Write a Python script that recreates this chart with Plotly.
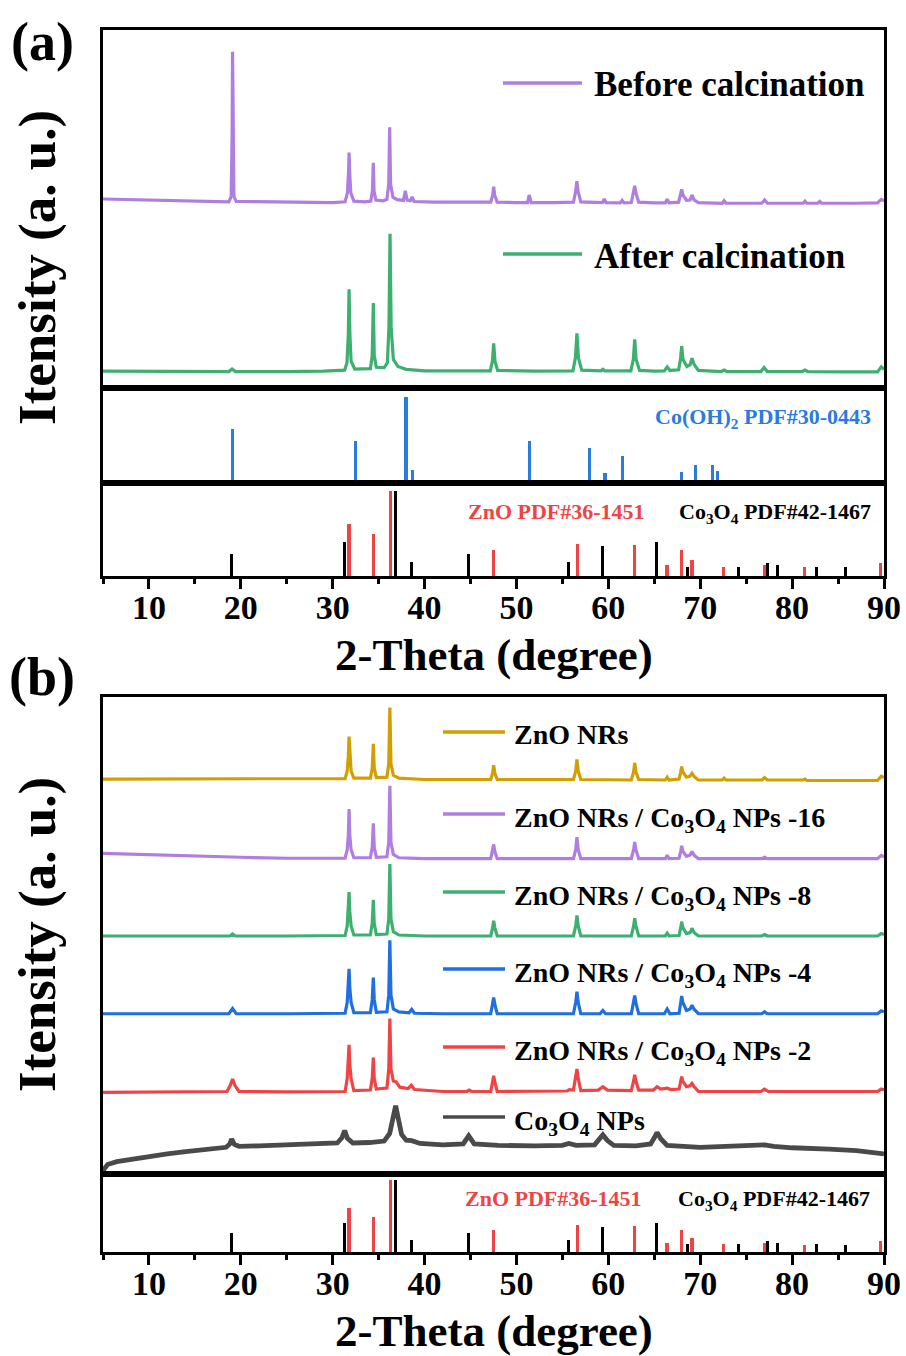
import plotly.graph_objects as go

# ---------------- data (2-Theta in degrees, intensity in a.u.) ----------------
before_calc = [(5,52.8),(8,52.6),(12,52.4),(16,52.1),(18.7,52.0),(18.95,53.5),(19.05,70),(19.1,93.9),(19.15,70),(19.25,53.5),(19.5,52.1),(22,52.0),(26,51.9),(30,51.8),(31.35,52.0),(31.6,54.5),(31.72,60),(31.78,65.8),(31.85,60),(31.97,54.5),(32.3,52.2),(33.5,52.0),(34.15,52.2),(34.32,55),(34.42,62.9),(34.5,55),(34.7,52.5),(35.5,52.3),(35.9,52.7),(36.1,57),(36.2,72.8),(36.3,57),(36.55,53.3),(37.0,52.6),(37.7,52.4),(37.9,55.1),(38.1,52.5),(38.45,52.3),(38.65,53.4),(38.85,52.1),(41,51.9),(45,51.8),(47.2,51.9),(47.42,54),(47.52,56.2),(47.62,54),(47.9,51.9),(50,51.8),(51.2,51.8),(51.38,53.9),(51.6,51.8),(54,51.8),(56.2,51.9),(56.45,55),(56.57,57.8),(56.7,55),(57.0,52.0),(59.35,51.8),(59.55,52.8),(59.75,51.8),(61.3,51.7),(61.5,52.4),(61.7,51.7),(62.5,51.8),(62.75,54.5),(62.87,56.5),(63.0,54.5),(63.3,51.9),(65,51.7),(66.2,51.7),(66.4,52.7),(66.6,51.7),(67.65,51.9),(67.88,54),(67.98,55.5),(68.1,54),(68.5,52.4),(68.9,52.5),(69.1,53.9),(69.35,52.5),(69.8,51.8),(72.4,51.6),(72.6,52.3),(72.8,51.6),(76.7,51.6),(77.0,52.5),(77.3,51.6),(81.2,51.6),(81.4,52.2),(81.6,51.6),(82.8,51.6),(83.0,52.1),(83.2,51.6),(87,51.6),(89.3,51.7),(89.7,52.7),(90,52.3)]

after_calc = [(5,4.7),(10,4.6),(15,4.6),(18.7,4.6),(19.05,5.3),(19.4,4.6),(25,4.6),(29,4.7),(31.3,5.0),(31.55,7),(31.7,15),(31.78,27.6),(31.87,15),(32.0,7.5),(32.4,5.3),(33.8,5.2),(34.1,5.4),(34.3,9),(34.42,23.7),(34.52,9),(34.75,5.8),(35.6,5.7),(35.95,7),(36.12,17),(36.24,43.1),(36.36,17),(36.6,8),(37.1,6.0),(38,5.2),(40,4.8),(45,4.7),(47.15,4.8),(47.38,7.5),(47.52,12.5),(47.66,7.5),(47.95,4.9),(52,4.7),(56.15,4.8),(56.42,8.5),(56.58,15.3),(56.74,8.5),(57.1,5.0),(59.2,4.8),(59.4,5.2),(59.6,4.8),(62.45,4.8),(62.72,8),(62.87,13.6),(63.02,8),(63.4,4.9),(65,4.7),(66.1,4.8),(66.4,5.9),(66.7,4.9),(67.65,5.1),(67.85,8),(67.98,11.7),(68.12,8),(68.55,6.0),(68.9,6.5),(69.1,8.3),(69.35,6.5),(69.8,4.9),(72.3,4.6),(72.6,5.0),(72.9,4.6),(76.6,4.6),(76.95,5.7),(77.3,4.6),(81.1,4.6),(81.4,5.0),(81.7,4.6),(86,4.5),(89.3,4.5),(89.7,5.9),(90,5.2)]

zno_nrs = [(5,82.8),(15,82.8),(25,82.8),(31.35,82.9),(31.58,84.5),(31.7,87.5),(31.78,91.7),(31.86,87.5),(32.0,84.5),(32.3,83.0),(34.1,83.0),(34.3,85),(34.42,90.2),(34.52,85),(34.75,83.1),(35.9,83.2),(36.1,86),(36.22,97.8),(36.34,86),(36.6,83.6),(37.2,83.0),(40,82.7),(47.2,82.7),(47.4,84),(47.52,85.7),(47.65,84),(47.9,82.7),(56.2,82.7),(56.45,84.5),(56.58,86.9),(56.72,84.5),(57.0,82.7),(62.5,82.6),(62.75,84.3),(62.87,86.2),(63.0,84.3),(63.3,82.7),(66.2,82.6),(66.4,83.2),(66.6,82.6),(67.7,82.8),(67.88,84.3),(67.98,85.4),(68.1,84.3),(68.5,83.2),(68.9,83.4),(69.1,84.0),(69.35,83.3),(69.8,82.6),(72.4,82.6),(72.6,83.0),(72.8,82.6),(76.7,82.6),(77.0,83.1),(77.3,82.6),(81.2,82.6),(81.4,82.8),(81.6,82.5),(89.3,82.5),(89.7,83.4),(90,83.1)]

comp_16 = [(5,67.2),(10,66.9),(15,66.6),(20,66.4),(25,66.2),(30,66.1),(31.35,66.2),(31.58,68),(31.7,71),(31.78,76.5),(31.86,71),(32.0,68),(32.3,66.3),(34.1,66.3),(34.3,68.5),(34.42,73.5),(34.52,68.5),(34.75,66.4),(35.9,66.5),(36.1,69.5),(36.22,81.4),(36.34,69.5),(36.6,67.0),(37.2,66.3),(40,66.1),(47.2,66.1),(47.4,67.6),(47.52,69.1),(47.65,67.6),(47.9,66.1),(56.2,66.1),(56.45,68),(56.58,70.6),(56.72,68),(57.0,66.1),(62.5,66.1),(62.75,68),(62.87,69.6),(63.0,68),(63.3,66.1),(66.2,66.1),(66.4,66.8),(66.6,66.1),(67.7,66.2),(67.88,67.7),(67.98,68.8),(68.1,67.7),(68.5,66.6),(68.9,66.9),(69.1,67.6),(69.35,66.8),(69.8,66.1),(76.7,66.1),(77.0,66.4),(77.3,66.1),(89.3,66.1),(89.7,66.8),(90,66.5)]

comp_8 = [(5,49.9),(15,49.9),(18.8,49.9),(19.1,50.3),(19.4,49.9),(25,49.9),(31.35,50.0),(31.58,52),(31.7,55),(31.78,59.1),(31.86,55),(32.0,52),(32.3,50.1),(34.1,50.1),(34.3,52.5),(34.42,57.5),(34.52,52.5),(34.75,50.2),(35.9,50.3),(36.1,53.5),(36.22,65.0),(36.34,53.5),(36.6,50.8),(37.2,50.1),(40,49.9),(47.2,49.9),(47.4,51.6),(47.52,53.1),(47.65,51.6),(47.9,49.9),(56.2,49.9),(56.45,52),(56.58,54.2),(56.72,52),(57.0,49.9),(62.5,49.9),(62.75,52),(62.87,53.6),(63.0,52),(63.3,49.9),(66.2,49.9),(66.4,50.5),(66.6,49.9),(67.7,50.0),(67.88,51.7),(67.98,52.9),(68.1,51.7),(68.5,50.4),(68.9,50.6),(69.1,51.5),(69.35,50.6),(69.8,49.9),(76.7,49.9),(77.0,50.2),(77.3,49.9),(89.3,49.9),(89.7,50.4),(90,50.2)]

comp_4 = [(5,33.6),(15,33.6),(18.7,33.6),(19.1,34.7),(19.5,33.6),(25,33.6),(31.35,33.7),(31.58,36),(31.7,39),(31.78,43.0),(31.86,39),(32.0,36),(32.3,33.8),(34.1,33.8),(34.3,36.5),(34.42,41.2),(34.52,36.5),(34.75,33.9),(35.9,34.0),(36.1,37.5),(36.22,49.0),(36.34,37.5),(36.6,34.6),(37.2,34.0),(38.3,33.8),(38.6,34.5),(38.9,33.7),(42,33.6),(47.2,33.6),(47.4,35.5),(47.52,37.0),(47.65,35.5),(47.9,33.6),(56.2,33.6),(56.45,36),(56.58,38.2),(56.72,36),(57.0,33.6),(59.1,33.6),(59.4,34.3),(59.7,33.6),(62.5,33.6),(62.75,35.8),(62.87,37.4),(63.0,35.8),(63.3,33.6),(66.1,33.6),(66.4,34.6),(66.7,33.6),(67.7,33.7),(67.88,36),(67.98,37.3),(68.1,36),(68.5,34.3),(68.9,34.6),(69.1,35.4),(69.35,34.5),(69.8,33.6),(76.7,33.6),(77.0,34.0),(77.3,33.6),(89.3,33.6),(89.7,34.2),(90,34.0)]

comp_2 = [(5,17.1),(15,17.2),(18.5,17.3),(18.85,18.6),(19.1,19.9),(19.35,18.6),(19.8,17.3),(25,17.2),(31.35,17.3),(31.58,20),(31.7,23),(31.78,27.1),(31.86,23),(32.0,20),(32.3,17.5),(34.1,17.6),(34.3,20),(34.42,24.4),(34.52,20),(34.75,17.8),(35.9,18.0),(36.1,22),(36.22,32.6),(36.34,22),(36.6,19.5),(36.9,19.3),(37.3,18.2),(38.2,17.9),(38.55,18.6),(38.9,17.7),(42,17.3),(44.6,17.3),(44.85,17.6),(45.1,17.3),(47.2,17.3),(47.4,19.2),(47.52,20.6),(47.65,19.2),(47.9,17.3),(55.5,17.4),(55.75,17.7),(56.2,17.6),(56.45,20),(56.58,22.0),(56.72,20),(57.0,17.5),(58.9,17.6),(59.4,18.3),(59.9,17.6),(62.5,17.5),(62.75,19.5),(62.87,20.8),(63.0,19.5),(63.3,17.6),(64.9,17.6),(65.3,18.3),(65.7,17.8),(66.4,18.0),(66.8,17.7),(67.7,17.8),(67.88,19.5),(67.98,20.4),(68.1,19.5),(68.5,18.3),(68.9,18.5),(69.1,19.0),(69.35,18.3),(69.8,17.3),(76.6,17.3),(77.0,17.8),(77.4,17.3),(89.3,17.3),(89.7,17.8),(90,17.6)]

co3o4_nps = [(5,0.7),(5.5,2.0),(6.5,2.6),(8,3.1),(10,3.6),(12,4.2),(14,4.7),(16,5.1),(18.4,5.6),(18.8,6.3),(19.0,7.3),(19.3,6.2),(19.8,5.8),(22,5.9),(25,6.2),(28,6.3),(30.5,6.5),(31.0,7.6),(31.3,9.1),(31.6,7.5),(32.2,6.5),(34,6.6),(35.6,6.9),(36.2,8.5),(36.55,11.5),(36.85,14.3),(37.15,11.5),(37.5,8.3),(38.0,7.1),(38.6,7.0),(39.5,6.4),(42,6.1),(44.2,6.3),(44.8,8.0),(45.4,6.3),(48,6.0),(52,5.9),(55.0,6.0),(55.7,6.4),(56.5,6.0),(58.5,6.1),(59.0,7.2),(59.4,8.2),(59.9,7.0),(60.6,6.0),(63,5.9),(64.6,6.3),(65.0,7.6),(65.3,8.7),(65.7,7.4),(66.4,6.0),(70,5.6),(74,5.8),(77,6.1),(78,5.8),(80,5.5),(84,5.2),(87,4.9),(90,4.2)]

# reference stick patterns (relative intensity)
cooh_pos = [19.06, 32.5, 37.97, 38.65, 51.38, 57.96, 59.63, 61.5, 68.0, 69.52, 71.33, 71.86]
cooh_int = [63, 49, 100, 15, 49, 40, 12, 31, 13, 21, 21, 14]
zno_pos = [31.77, 34.42, 36.25, 47.54, 56.60, 62.86, 66.38, 67.96, 69.10, 72.56, 76.95, 81.37, 89.6]
zno_int = [61, 49, 100, 30, 38, 36, 13, 30, 19, 11, 13, 10, 15]
co3o4_pos = [19.0, 31.27, 36.85, 38.55, 44.81, 55.66, 59.36, 65.24, 68.63, 74.12, 77.33, 78.40, 82.65, 85.84]
co3o4_int = [26, 40, 100, 17, 26, 16, 35, 40, 11, 11, 15, 13, 11, 10]

x_ticks = [10, 20, 30, 40, 50, 60, 70, 80, 90]

# ---------------- styling ----------------
W, H = 906, 1356
FONT = "Times New Roman, Liberation Serif, Tinos, serif"
C_PURPLE = "#B07DE0"
C_GREEN = "#3DB070"
C_BLUE = "#1F6FE0"
C_BLUE_REF = "#2A7BE0"
C_RED = "#F04343"
C_GOLD = "#D29E00"
C_GRAY = "#4A4A4A"


def px(x):
    return x / W


def py(y):
    return 1 - y / H


def split(pts):
    return [p[0] for p in pts], [p[1] for p in pts]


fig = go.Figure()


def add_curve(pts, color, axis, width=3.2):
    xs, ys = split(pts)
    fig.add_trace(go.Scatter(x=xs, y=ys, mode="lines", line=dict(color=color, width=width),
                             xaxis="x" + axis, yaxis="y" + axis, showlegend=False,
                             hoverinfo="skip"))


def add_sticks(pos, inten, color, axis):
    fig.add_trace(go.Bar(x=pos, y=inten, width=0.34, marker=dict(color=color, line=dict(width=0)),
                         xaxis="x" + axis, yaxis="y" + axis, showlegend=False))


# panel (a)
add_curve(before_calc, C_PURPLE, "")
add_curve(after_calc, C_GREEN, "")
add_sticks(cooh_pos, cooh_int, C_BLUE_REF, "2")
add_sticks(co3o4_pos, co3o4_int, "black", "3")
add_sticks(zno_pos, zno_int, C_RED, "3")
# panel (b)
add_curve(zno_nrs, C_GOLD, "4")
add_curve(comp_16, C_PURPLE, "4")
add_curve(comp_8, C_GREEN, "4")
add_curve(comp_4, C_BLUE, "4")
add_curve(comp_2, C_RED, "4")
add_curve(co3o4_nps, C_GRAY, "4", width=4.8)
add_sticks(co3o4_pos, co3o4_int, "black", "5")
add_sticks(zno_pos, zno_int, C_RED, "5")

XDOM = [px(103), px(884)]
ydoms = {
    "": [py(388), py(30)],
    "2": [py(483), py(388)],
    "3": [py(576), py(483)],
    "4": [py(1174), py(697)],
    "5": [py(1252), py(1174)],
}
yranges = {"": [0, 100], "2": [0, 110], "3": [0, 109], "4": [0, 100], "5": [0, 108]}

layout = dict(width=W, height=H, autosize=False, margin=dict(l=0, r=0, t=0, b=0),
              paper_bgcolor="white", plot_bgcolor="white", barmode="overlay",
              bargap=0, showlegend=False)

for k in ["", "2", "3", "4", "5"]:
    bottom = k in ("3", "5")
    xa = dict(domain=XDOM, range=[5, 90], anchor="y" + k, showline=True, mirror=True,
              linewidth=3, linecolor="black", showgrid=False, zeroline=False,
              fixedrange=True, automargin=False)
    if bottom:
        xa.update(ticks="outside", ticklen=10, tickwidth=2.5, tickcolor="black",
                  tickmode="array", tickvals=x_ticks, ticktext=[str(t) for t in x_ticks],
                  ticklabelstandoff=-11,
                  tickfont=dict(family=FONT, size=34, color="black", weight="bold"),
                  minor=dict(ticks="outside", ticklen=5, tickwidth=2.5, tickcolor="black",
                             tickmode="linear", tick0=5, dtick=5, showgrid=False))
    else:
        xa.update(ticks="", showticklabels=False)
    ya = dict(domain=ydoms[k], range=yranges[k], anchor="x" + k, showline=True, mirror=True,
              linewidth=3, linecolor="black", showgrid=False, zeroline=False,
              ticks="", showticklabels=False, fixedrange=True, automargin=False)
    layout["xaxis" + k] = xa
    layout["yaxis" + k] = ya

fig.update_layout(**layout)


def text(x, y, s, size, color="black", xanchor="left", angle=0):
    fig.add_annotation(x=px(x), y=py(y), xref="paper", yref="paper", text=s, showarrow=False,
                       xanchor=xanchor, yanchor="middle", textangle=angle,
                       font=dict(family=FONT, size=size, color=color, weight="bold"))


def legend_line(x0, x1, y, color):
    fig.add_shape(type="line", xref="paper", yref="paper", x0=px(x0), x1=px(x1),
                  y0=py(y), y1=py(y), line=dict(color=color, width=3.5))


# panel labels and axis titles
text(42, 42, "(a)", 54, xanchor="center")
text(42, 677, "(b)", 54, xanchor="center")
text(37, 268, "Itensity (a. u.)", 53, xanchor="center", angle=-90)
text(37, 935, "Itensity (a. u.)", 53, xanchor="center", angle=-90)
text(494, 655, "2-Theta (degree)", 45, xanchor="center")
text(494, 1331, "2-Theta (degree)", 45, xanchor="center")

# legends panel (a)
legend_line(503, 582, 83, C_PURPLE)
text(592, 85, "Before calcination", 35)
legend_line(503, 582, 254, C_GREEN)
text(592, 256, "After calcination", 35)

# reference labels panel (a)
text(873, 418, "Co(OH)<sub>2</sub> PDF#30-0443", 22, color=C_BLUE_REF, xanchor="right")
text(466, 511, "ZnO PDF#36-1451", 22, color=C_RED)
text(873, 513, "Co<sub>3</sub>O<sub>4</sub> PDF#42-1467", 22, xanchor="right")

# legends panel (b)
leg_b = [("ZnO NRs", C_GOLD, 732),
         ("ZnO NRs / Co<sub>3</sub>O<sub>4</sub> NPs -16", C_PURPLE, 814),
         ("ZnO NRs / Co<sub>3</sub>O<sub>4</sub> NPs -8", C_GREEN, 892),
         ("ZnO NRs / Co<sub>3</sub>O<sub>4</sub> NPs -4", C_BLUE, 969),
         ("ZnO NRs / Co<sub>3</sub>O<sub>4</sub> NPs -2", C_RED, 1047),
         ("Co<sub>3</sub>O<sub>4</sub> NPs", C_GRAY, 1117)]
for label, col, yy in leg_b:
    legend_line(443, 505, yy, col)
    text(512, yy + (2 if "sub" not in label else 5), label, 28)

# reference labels panel (b)
text(463, 1198, "ZnO PDF#36-1451", 22, color=C_RED)
text(872, 1200, "Co<sub>3</sub>O<sub>4</sub> PDF#42-1467", 22, xanchor="right")

fig.write_html("out.html")
